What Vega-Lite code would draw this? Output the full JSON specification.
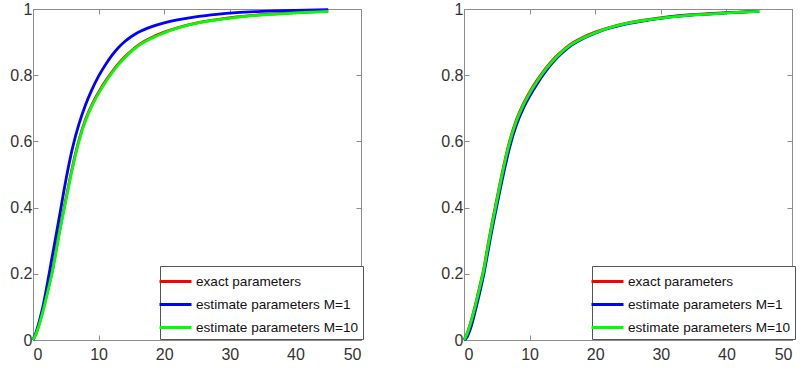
{
  "$schema": "https://vega.github.io/schema/vega-lite/v6.json",
  "padding": {"left": 9, "top": 0, "right": 5, "bottom": 5},
  "spacing": 76,
  "background": "white",
  "datasets": {
    "left": [
      {"x": 0, "y": 0, "s": "exact parameters"}, {"x": 0.5, "y": 0.021, "s": "exact parameters"}, {"x": 1, "y": 0.052, "s": "exact parameters"}, {"x": 1.5, "y": 0.088, "s": "exact parameters"}, {"x": 2, "y": 0.128, "s": "exact parameters"}, {"x": 2.5, "y": 0.171, "s": "exact parameters"}, {"x": 3, "y": 0.214, "s": "exact parameters"}, {"x": 3.5, "y": 0.27, "s": "exact parameters"}, {"x": 4, "y": 0.325, "s": "exact parameters"}, {"x": 5, "y": 0.425, "s": "exact parameters"}, {"x": 6, "y": 0.522, "s": "exact parameters"}, {"x": 7, "y": 0.604, "s": "exact parameters"}, {"x": 8, "y": 0.666, "s": "exact parameters"}, {"x": 9, "y": 0.712, "s": "exact parameters"}, {"x": 10, "y": 0.749, "s": "exact parameters"}, {"x": 11, "y": 0.781, "s": "exact parameters"}, {"x": 12, "y": 0.809, "s": "exact parameters"}, {"x": 13, "y": 0.834, "s": "exact parameters"}, {"x": 14, "y": 0.856, "s": "exact parameters"}, {"x": 15, "y": 0.874, "s": "exact parameters"}, {"x": 16, "y": 0.89, "s": "exact parameters"}, {"x": 18, "y": 0.913, "s": "exact parameters"}, {"x": 20, "y": 0.93, "s": "exact parameters"}, {"x": 22, "y": 0.943, "s": "exact parameters"}, {"x": 25, "y": 0.958, "s": "exact parameters"}, {"x": 28, "y": 0.968, "s": "exact parameters"}, {"x": 31, "y": 0.976, "s": "exact parameters"}, {"x": 35, "y": 0.983, "s": "exact parameters"}, {"x": 40, "y": 0.989, "s": "exact parameters"}, {"x": 45, "y": 0.993, "s": "exact parameters"},
      {"x": 0, "y": 0, "s": "estimate parameters M=1"}, {"x": 0.5, "y": 0.025, "s": "estimate parameters M=1"}, {"x": 1, "y": 0.06, "s": "estimate parameters M=1"}, {"x": 1.5, "y": 0.1, "s": "estimate parameters M=1"}, {"x": 2, "y": 0.15, "s": "estimate parameters M=1"}, {"x": 2.5, "y": 0.205, "s": "estimate parameters M=1"}, {"x": 3, "y": 0.26, "s": "estimate parameters M=1"}, {"x": 3.5, "y": 0.315, "s": "estimate parameters M=1"}, {"x": 4, "y": 0.37, "s": "estimate parameters M=1"}, {"x": 5, "y": 0.482, "s": "estimate parameters M=1"}, {"x": 6, "y": 0.578, "s": "estimate parameters M=1"}, {"x": 7, "y": 0.652, "s": "estimate parameters M=1"}, {"x": 8, "y": 0.71, "s": "estimate parameters M=1"}, {"x": 9, "y": 0.757, "s": "estimate parameters M=1"}, {"x": 10, "y": 0.797, "s": "estimate parameters M=1"}, {"x": 11, "y": 0.83, "s": "estimate parameters M=1"}, {"x": 12, "y": 0.859, "s": "estimate parameters M=1"}, {"x": 13, "y": 0.883, "s": "estimate parameters M=1"}, {"x": 14, "y": 0.902, "s": "estimate parameters M=1"}, {"x": 15, "y": 0.917, "s": "estimate parameters M=1"}, {"x": 16, "y": 0.929, "s": "estimate parameters M=1"}, {"x": 18, "y": 0.946, "s": "estimate parameters M=1"}, {"x": 20, "y": 0.958, "s": "estimate parameters M=1"}, {"x": 22, "y": 0.967, "s": "estimate parameters M=1"}, {"x": 25, "y": 0.977, "s": "estimate parameters M=1"}, {"x": 28, "y": 0.984, "s": "estimate parameters M=1"}, {"x": 31, "y": 0.989, "s": "estimate parameters M=1"}, {"x": 35, "y": 0.993, "s": "estimate parameters M=1"}, {"x": 40, "y": 0.996, "s": "estimate parameters M=1"}, {"x": 45, "y": 0.998, "s": "estimate parameters M=1"},
      {"x": 0, "y": 0, "s": "estimate parameters M=10"}, {"x": 0.5, "y": 0.02, "s": "estimate parameters M=10"}, {"x": 1, "y": 0.05, "s": "estimate parameters M=10"}, {"x": 1.5, "y": 0.085, "s": "estimate parameters M=10"}, {"x": 2, "y": 0.125, "s": "estimate parameters M=10"}, {"x": 2.5, "y": 0.167, "s": "estimate parameters M=10"}, {"x": 3, "y": 0.21, "s": "estimate parameters M=10"}, {"x": 3.5, "y": 0.265, "s": "estimate parameters M=10"}, {"x": 4, "y": 0.32, "s": "estimate parameters M=10"}, {"x": 5, "y": 0.42, "s": "estimate parameters M=10"}, {"x": 6, "y": 0.517, "s": "estimate parameters M=10"}, {"x": 7, "y": 0.6, "s": "estimate parameters M=10"}, {"x": 8, "y": 0.662, "s": "estimate parameters M=10"}, {"x": 9, "y": 0.708, "s": "estimate parameters M=10"}, {"x": 10, "y": 0.745, "s": "estimate parameters M=10"}, {"x": 11, "y": 0.777, "s": "estimate parameters M=10"}, {"x": 12, "y": 0.806, "s": "estimate parameters M=10"}, {"x": 13, "y": 0.831, "s": "estimate parameters M=10"}, {"x": 14, "y": 0.853, "s": "estimate parameters M=10"}, {"x": 15, "y": 0.872, "s": "estimate parameters M=10"}, {"x": 16, "y": 0.888, "s": "estimate parameters M=10"}, {"x": 18, "y": 0.911, "s": "estimate parameters M=10"}, {"x": 20, "y": 0.928, "s": "estimate parameters M=10"}, {"x": 22, "y": 0.942, "s": "estimate parameters M=10"}, {"x": 25, "y": 0.957, "s": "estimate parameters M=10"}, {"x": 28, "y": 0.967, "s": "estimate parameters M=10"}, {"x": 31, "y": 0.975, "s": "estimate parameters M=10"}, {"x": 35, "y": 0.982, "s": "estimate parameters M=10"}, {"x": 40, "y": 0.988, "s": "estimate parameters M=10"}, {"x": 45, "y": 0.993, "s": "estimate parameters M=10"}
    ],
    "right": [
      {"x": 0, "y": 0, "s": "exact parameters"}, {"x": 0.5, "y": 0.021, "s": "exact parameters"}, {"x": 1, "y": 0.052, "s": "exact parameters"}, {"x": 1.5, "y": 0.088, "s": "exact parameters"}, {"x": 2, "y": 0.128, "s": "exact parameters"}, {"x": 2.5, "y": 0.171, "s": "exact parameters"}, {"x": 3, "y": 0.214, "s": "exact parameters"}, {"x": 3.5, "y": 0.27, "s": "exact parameters"}, {"x": 4, "y": 0.325, "s": "exact parameters"}, {"x": 5, "y": 0.425, "s": "exact parameters"}, {"x": 6, "y": 0.522, "s": "exact parameters"}, {"x": 7, "y": 0.604, "s": "exact parameters"}, {"x": 8, "y": 0.666, "s": "exact parameters"}, {"x": 9, "y": 0.712, "s": "exact parameters"}, {"x": 10, "y": 0.749, "s": "exact parameters"}, {"x": 11, "y": 0.781, "s": "exact parameters"}, {"x": 12, "y": 0.809, "s": "exact parameters"}, {"x": 13, "y": 0.834, "s": "exact parameters"}, {"x": 14, "y": 0.856, "s": "exact parameters"}, {"x": 15, "y": 0.874, "s": "exact parameters"}, {"x": 16, "y": 0.89, "s": "exact parameters"}, {"x": 18, "y": 0.913, "s": "exact parameters"}, {"x": 20, "y": 0.93, "s": "exact parameters"}, {"x": 22, "y": 0.943, "s": "exact parameters"}, {"x": 25, "y": 0.958, "s": "exact parameters"}, {"x": 28, "y": 0.968, "s": "exact parameters"}, {"x": 31, "y": 0.976, "s": "exact parameters"}, {"x": 35, "y": 0.983, "s": "exact parameters"}, {"x": 40, "y": 0.989, "s": "exact parameters"}, {"x": 45, "y": 0.993, "s": "exact parameters"},
      {"x": 0, "y": 0, "s": "estimate parameters M=1"}, {"x": 0.5, "y": 0.01, "s": "estimate parameters M=1"}, {"x": 1, "y": 0.035, "s": "estimate parameters M=1"}, {"x": 1.5, "y": 0.07, "s": "estimate parameters M=1"}, {"x": 2, "y": 0.11, "s": "estimate parameters M=1"}, {"x": 2.5, "y": 0.152, "s": "estimate parameters M=1"}, {"x": 3, "y": 0.197, "s": "estimate parameters M=1"}, {"x": 3.5, "y": 0.25, "s": "estimate parameters M=1"}, {"x": 4, "y": 0.305, "s": "estimate parameters M=1"}, {"x": 5, "y": 0.405, "s": "estimate parameters M=1"}, {"x": 6, "y": 0.5, "s": "estimate parameters M=1"}, {"x": 7, "y": 0.585, "s": "estimate parameters M=1"}, {"x": 8, "y": 0.65, "s": "estimate parameters M=1"}, {"x": 9, "y": 0.698, "s": "estimate parameters M=1"}, {"x": 10, "y": 0.736, "s": "estimate parameters M=1"}, {"x": 11, "y": 0.769, "s": "estimate parameters M=1"}, {"x": 12, "y": 0.799, "s": "estimate parameters M=1"}, {"x": 13, "y": 0.826, "s": "estimate parameters M=1"}, {"x": 14, "y": 0.849, "s": "estimate parameters M=1"}, {"x": 15, "y": 0.868, "s": "estimate parameters M=1"}, {"x": 16, "y": 0.885, "s": "estimate parameters M=1"}, {"x": 18, "y": 0.909, "s": "estimate parameters M=1"}, {"x": 20, "y": 0.927, "s": "estimate parameters M=1"}, {"x": 22, "y": 0.941, "s": "estimate parameters M=1"}, {"x": 25, "y": 0.956, "s": "estimate parameters M=1"}, {"x": 28, "y": 0.966, "s": "estimate parameters M=1"}, {"x": 31, "y": 0.975, "s": "estimate parameters M=1"}, {"x": 35, "y": 0.982, "s": "estimate parameters M=1"}, {"x": 40, "y": 0.988, "s": "estimate parameters M=1"}, {"x": 45, "y": 0.993, "s": "estimate parameters M=1"},
      {"x": 0, "y": 0, "s": "estimate parameters M=10"}, {"x": 0.5, "y": 0.02, "s": "estimate parameters M=10"}, {"x": 1, "y": 0.05, "s": "estimate parameters M=10"}, {"x": 1.5, "y": 0.085, "s": "estimate parameters M=10"}, {"x": 2, "y": 0.125, "s": "estimate parameters M=10"}, {"x": 2.5, "y": 0.167, "s": "estimate parameters M=10"}, {"x": 3, "y": 0.21, "s": "estimate parameters M=10"}, {"x": 3.5, "y": 0.265, "s": "estimate parameters M=10"}, {"x": 4, "y": 0.32, "s": "estimate parameters M=10"}, {"x": 5, "y": 0.42, "s": "estimate parameters M=10"}, {"x": 6, "y": 0.517, "s": "estimate parameters M=10"}, {"x": 7, "y": 0.6, "s": "estimate parameters M=10"}, {"x": 8, "y": 0.662, "s": "estimate parameters M=10"}, {"x": 9, "y": 0.708, "s": "estimate parameters M=10"}, {"x": 10, "y": 0.745, "s": "estimate parameters M=10"}, {"x": 11, "y": 0.777, "s": "estimate parameters M=10"}, {"x": 12, "y": 0.806, "s": "estimate parameters M=10"}, {"x": 13, "y": 0.831, "s": "estimate parameters M=10"}, {"x": 14, "y": 0.853, "s": "estimate parameters M=10"}, {"x": 15, "y": 0.872, "s": "estimate parameters M=10"}, {"x": 16, "y": 0.888, "s": "estimate parameters M=10"}, {"x": 18, "y": 0.911, "s": "estimate parameters M=10"}, {"x": 20, "y": 0.928, "s": "estimate parameters M=10"}, {"x": 22, "y": 0.942, "s": "estimate parameters M=10"}, {"x": 25, "y": 0.957, "s": "estimate parameters M=10"}, {"x": 28, "y": 0.967, "s": "estimate parameters M=10"}, {"x": 31, "y": 0.975, "s": "estimate parameters M=10"}, {"x": 35, "y": 0.982, "s": "estimate parameters M=10"}, {"x": 40, "y": 0.988, "s": "estimate parameters M=10"}, {"x": 45, "y": 0.993, "s": "estimate parameters M=10"}
    ]
  },
  "hconcat": [
    {
      "width": 328, "height": 331,
      "data": {"name": "left"},
      "layer": [
        {
          "mark": {"type": "line", "strokeWidth": 2.8, "interpolate": "monotone"},
          "encoding": {
            "x": {"field": "x", "type": "quantitative", "scale": {"domain": [0, 50], "nice": false}, "axis": {"orient": "bottom", "values": [0, 10, 20, 30, 40, 50], "format": "d", "labelPadding": 11, "title": null, "grid": false}},
            "y": {"field": "y", "type": "quantitative", "scale": {"domain": [0, 1], "nice": false}, "axis": {"orient": "left", "values": [0, 0.2, 0.4, 0.6, 0.8, 1], "format": "~r", "labelPadding": 6, "title": null, "grid": false}},
            "color": {"field": "s", "type": "nominal", "sort": null,
              "scale": {"domain": ["exact parameters", "estimate parameters M=1", "estimate parameters M=10"], "range": ["#ff0000", "#0000ff", "#00ff00"]},
              "legend": {"orient": "none", "legendX": 127, "legendY": 257, "title": null, "symbolType": "M-1.6,0H1.6", "symbolSize": 400, "symbolStrokeWidth": 3, "labelFontSize": 13.6, "labelFont": "Liberation Sans", "labelColor": "#111111", "labelOffset": 9, "labelLimit": 400, "padding": 4, "rowPadding": 4, "fillColor": "white", "strokeColor": "#555555"}
            }
          }
        },
        {
          "mark": {"type": "line", "opacity": 0},
          "encoding": {
            "x": {"field": "x", "type": "quantitative", "scale": {"domain": [0, 50], "nice": false}, "axis": {"orient": "top", "values": [0, 10, 20, 30, 40, 50], "labels": false, "title": null, "grid": false}},
            "y": {"field": "y", "type": "quantitative", "scale": {"domain": [0, 1], "nice": false}, "axis": {"orient": "right", "values": [0, 0.2, 0.4, 0.6, 0.8, 1], "labels": false, "title": null, "grid": false}},
            "detail": {"field": "s"}
          }
        }
      ],
      "resolve": {"axis": {"x": "independent", "y": "independent"}}
    },
    {
      "width": 328, "height": 331,
      "data": {"name": "right"},
      "layer": [
        {
          "mark": {"type": "line", "strokeWidth": 2.8, "interpolate": "monotone"},
          "encoding": {
            "x": {"field": "x", "type": "quantitative", "scale": {"domain": [0, 50], "nice": false}, "axis": {"orient": "bottom", "values": [0, 10, 20, 30, 40, 50], "format": "d", "labelPadding": 11, "title": null, "grid": false}},
            "y": {"field": "y", "type": "quantitative", "scale": {"domain": [0, 1], "nice": false}, "axis": {"orient": "left", "values": [0, 0.2, 0.4, 0.6, 0.8, 1], "format": "~r", "labelPadding": 6, "title": null, "grid": false}},
            "color": {"field": "s", "type": "nominal", "sort": null,
              "scale": {"domain": ["exact parameters", "estimate parameters M=1", "estimate parameters M=10"], "range": ["#ff0000", "#0000ff", "#00ff00"]},
              "legend": {"orient": "none", "legendX": 128, "legendY": 257, "title": null, "symbolType": "M-1.6,0H1.6", "symbolSize": 400, "symbolStrokeWidth": 3, "labelFontSize": 13.6, "labelFont": "Liberation Sans", "labelColor": "#111111", "labelOffset": 9, "labelLimit": 400, "padding": 4, "rowPadding": 4, "fillColor": "white", "strokeColor": "#555555"}
            }
          }
        },
        {
          "mark": {"type": "line", "opacity": 0},
          "encoding": {
            "x": {"field": "x", "type": "quantitative", "scale": {"domain": [0, 50], "nice": false}, "axis": {"orient": "top", "values": [0, 10, 20, 30, 40, 50], "labels": false, "title": null, "grid": false}},
            "y": {"field": "y", "type": "quantitative", "scale": {"domain": [0, 1], "nice": false}, "axis": {"orient": "right", "values": [0, 0.2, 0.4, 0.6, 0.8, 1], "labels": false, "title": null, "grid": false}},
            "detail": {"field": "s"}
          }
        }
      ],
      "resolve": {"axis": {"x": "independent", "y": "independent"}}
    }
  ],
  "resolve": {"scale": {"color": "independent"}, "legend": {"color": "independent"}},
  "config": {
    "view": {"stroke": "#8c8c8c", "strokeWidth": 1},
    "axis": {"domainColor": "#8c8c8c", "tickColor": "#8c8c8c", "tickSize": -5, "labelFont": "Liberation Sans", "labelFontSize": 16, "labelColor": "#333333", "domainWidth": 1, "tickWidth": 1}
  }
}
